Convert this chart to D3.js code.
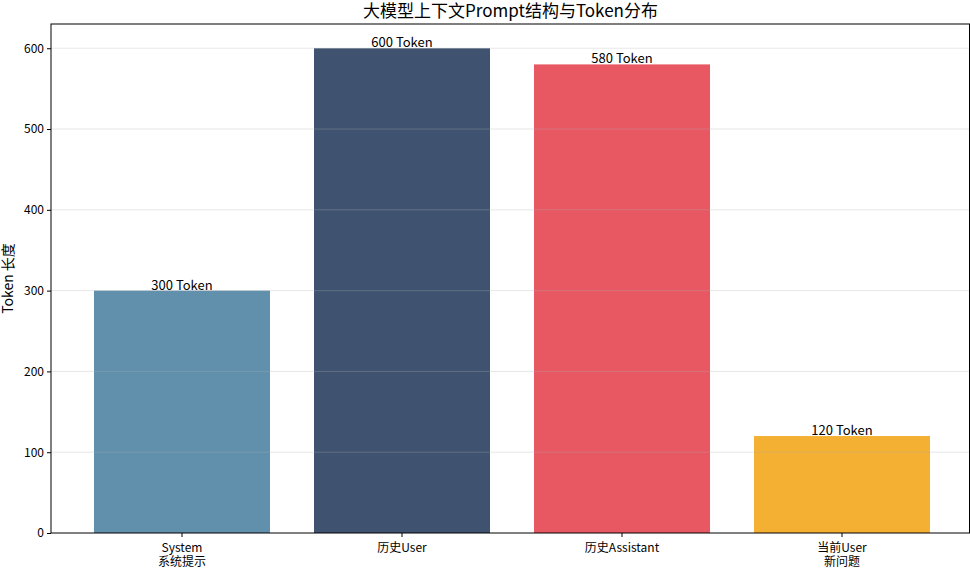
<!DOCTYPE html>
<html><head><meta charset="utf-8">
<script src="https://cdn.jsdelivr.net/npm/d3@7"></script>
<style>body{margin:0;background:#fff}text{font-family:"Noto Sans CJK SC",sans-serif}</style>
</head><body><div id="chart"></div>
<script>
const categories = ['System\n系统提示', '历史User', '历史Assistant', '当前User\n新问题'];
const values = [300, 600, 580, 120];
const colors = ['#6190ad', '#3f5370', '#e85862', '#f3b033'];
const yTicks = [0, 100, 200, 300, 400, 500, 600];

const w = 970, h = 570;
const mLeft = 51, mRight = 970, mTop = 24, mBottom = 533;

const svg = d3.select('#chart').append('svg').attr('width', w).attr('height', h);

const x = d3.scaleBand().domain(categories).range([72, 952]).paddingInner(0.2).paddingOuter(0.1);
const y = d3.scaleLinear().domain([0, 630]).range([mBottom, mTop]);

svg.selectAll('rect.bar').data(values).enter().append('rect')
    .attr('x', (d, i) => x(categories[i]))
    .attr('y', d => y(d))
    .attr('width', x.bandwidth())
    .attr('height', d => mBottom - y(d))
    .attr('fill', (d, i) => colors[i]);

// grid over bars
svg.append('g').selectAll('line').data(yTicks.slice(1)).enter().append('line')
    .attr('x1', mLeft).attr('x2', mRight)
    .attr('y1', d => y(d)).attr('y2', d => y(d))
    .attr('stroke', '#b0b0b0').attr('stroke-opacity', 0.3);

svg.selectAll('text.val').data(values).enter().append('text')
    .attr('x', (d, i) => x(categories[i]) + x.bandwidth() / 2)
    .attr('y', d => y(d) - 1)
    .attr('text-anchor', 'middle').attr('font-size', 13)
    .text(d => d + ' Token');

const yAxis = d3.axisLeft(y).tickValues(yTicks).tickSize(4);
svg.append('g').attr('transform', 'translate(' + mLeft + ',0)').call(yAxis)
    .call(g => g.select('.domain').remove())
    .selectAll('text').attr('font-size', 12).attr('fill', '#000');

const xg = svg.append('g').attr('transform', 'translate(0,' + mBottom + ')');
categories.forEach(c => {
    const cx = x(c) + x.bandwidth() / 2;
    xg.append('line').attr('x1', cx).attr('x2', cx).attr('y1', 0).attr('y2', 4).attr('stroke', '#000');
    const t = xg.append('text').attr('x', cx).attr('y', 19).attr('text-anchor', 'middle').attr('font-size', 12);
    c.split('\n').forEach((s, i) => t.append('tspan').attr('x', cx).attr('dy', i ? 14 : 0).text(s));
});

svg.append('rect').attr('x', mLeft).attr('y', mTop).attr('width', mRight - mLeft - 0.5).attr('height', mBottom - mTop)
    .attr('fill', 'none').attr('stroke', '#000').attr('stroke-width', 1);

svg.append('text').attr('x', (mLeft + mRight) / 2).attr('y', 17).attr('text-anchor', 'middle')
    .attr('font-size', 17).text('大模型上下文Prompt结构与Token分布');
svg.append('text').attr('transform', 'translate(13,' + (mTop + mBottom) / 2 + ') rotate(-90)')
    .attr('text-anchor', 'middle').attr('font-size', 14).text('Token 长度');
</script></body></html>
